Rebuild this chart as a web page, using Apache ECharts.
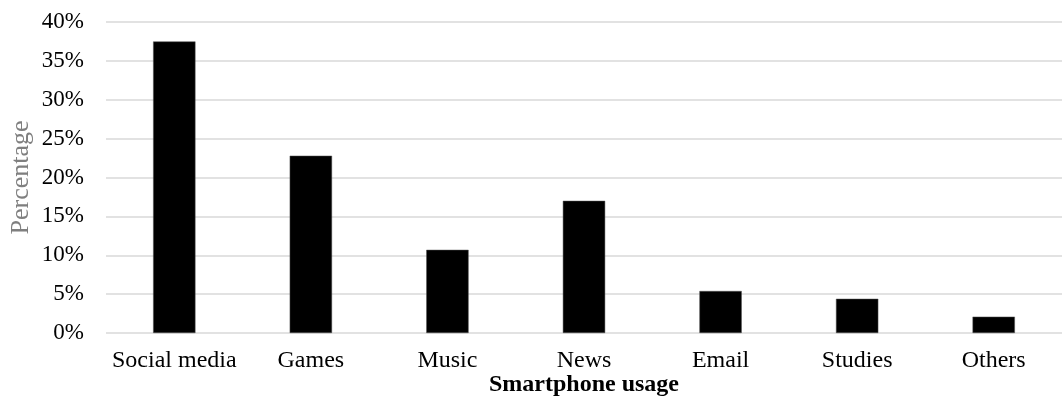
<!DOCTYPE html>
<html>
<head>
<meta charset="utf-8">
<script src="https://cdn.jsdelivr.net/npm/echarts@6/dist/echarts.min.js"></script>
<style>
    html, body { margin: 0; padding: 0; background: #fff; }
    #main { width: 1064px; height: 400px; }
</style>
</head>
<body>
<div id="main"></div>
<script>
    // smartphone usage categories and their shares (%)
    let categories = ['Social media', 'Games', 'Music', 'News', 'Email', 'Studies', 'Others'];
    let usageValues = [37.5, 22.8, 10.7, 17.0, 5.4, 4.4, 2.1];
    let yTicks = [0, 5, 10, 15, 20, 25, 30, 35, 40];

    let chart = echarts.init(document.getElementById('main'));

    let font = 'Liberation Serif, Times New Roman, serif';

    let option = {
        animation: false,
        grid: {
            left: 106,
            right: 2,
            top: 22,
            bottom: 67,
            containLabel: false,
            outerBoundsMode: 'none'
        },
        xAxis: {
            type: 'category',
            data: categories,
            name: 'Smartphone usage',
            nameLocation: 'middle',
            nameGap: 40,
            nameMoveOverlap: false,
            nameTextStyle: {
                fontFamily: font,
                fontSize: 24,
                fontWeight: 'bold',
                color: '#000'
            },
            axisLine: { show: false },
            axisTick: { show: false },
            axisLabel: {
                interval: 0,
                hideOverlap: false,
                fontFamily: font,
                fontSize: 24,
                color: '#000',
                margin: 16
            }
        },
        yAxis: {
            type: 'value',
            min: yTicks[0],
            max: yTicks[yTicks.length - 1],
            interval: 5,
            name: 'Percentage',
            nameLocation: 'middle',
            nameGap: 72,
            nameMoveOverlap: false,
            nameTextStyle: {
                fontFamily: font,
                fontSize: 26,
                color: '#7f7f7f'
            },
            axisLine: { show: false },
            axisTick: { show: false },
            axisLabel: {
                fontFamily: font,
                fontSize: 23,
                color: '#000',
                margin: 22,
                formatter: '{value}%'
            },
            splitLine: {
                lineStyle: { color: '#d9d9d9', width: 1.5 }
            }
        },
        series: [{
            type: 'bar',
            data: usageValues,
            barWidth: '31%',
            itemStyle: {
                color: '#000',
                borderColor: '#555',
                borderWidth: 0.5
            }
        }]
    };

    chart.setOption(option);
</script>
</body>
</html>
